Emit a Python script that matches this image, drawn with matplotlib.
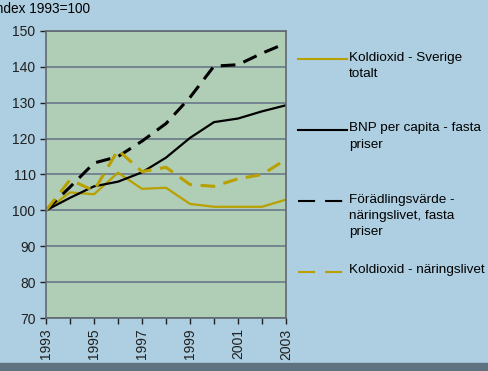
import matplotlib.pyplot as plt
from matplotlib.lines import Line2D

years = [1993, 1994, 1995, 1996, 1997, 1998, 1999, 2000, 2001, 2002, 2003]
co2_sverige = [100, 105, 104.5, 110.5, 106, 106.3, 101.8, 101, 101, 101, 103]
bnp_capita = [100, 103.5, 106.7, 108, 110.6, 114.7, 120.2, 124.6, 125.6, 127.6, 129.3]
foradling = [100, 106.5, 113.2, 115, 119.3, 124.2, 131.5, 140.2, 140.6, 143.8, 146.6]
co2_naring = [100, 108.5, 105.5, 116.8, 110.8, 112, 107.2, 106.7, 108.8, 110, 114.2]

labels = ['Koldioxid - Sverige\ntotalt', 'BNP per capita - fasta\npriser',
          'Förädlingsvärde -\nnäringslivet, fasta\npriser', 'Koldioxid - näringslivet']

gold = '#b8a000'
bg = '#aecfe1'

plt.rcParams['font.family'] = ['Liberation Sans', 'DejaVu Sans']

fig = plt.figure(figsize=(4.88, 3.71), dpi=100)
fig.patch.set_facecolor(bg)
ax = fig.add_axes([46 / 488, 53 / 371, 240 / 488, 287 / 371])
ax.set_facecolor('#b0cdb5')

dash = (0, (4.8, 2.8))
styles = [dict(color=gold, lw=1.6, ls='-'),
          dict(color='black', lw=1.6, ls='-'),
          dict(color='black', lw=2.2, ls=dash),
          dict(color=gold, lw=2.2, ls=dash)]
series = [co2_sverige, bnp_capita, foradling, co2_naring]

for vals, st in zip(series, styles):
    ax.plot(years, vals, **st)

ax.set_xlim(1993, 2003)
ax.set_ylim(70, 150)
ax.set_yticks(range(70, 151, 10))
ax.set_xticks(years)
ax.set_xticklabels([str(y) if y % 2 == 1 else '' for y in years], rotation=90)
ax.tick_params(labelsize=10, colors='#202020', length=4, width=1)
ax.grid(axis='y', color='#687888', lw=1.2)
for s in ax.spines.values():
    s.set_color('#606870')
    s.set_linewidth(1.2)

fig.text(-0.016, 0.995, 'Index 1993=100', fontsize=9.8, va='top', ha='left')

# legend drawn by hand to copy the spread-out layout
top = 1 - 59 / 371
step = 71 / 371
for i, (lab, st) in enumerate(zip(labels, styles)):
    y = top - i * step
    st = dict(st, lw=1.5)
    if st['ls'] != '-':
        st['ls'] = (0, (8.2, 4.8))
    fig.add_artist(Line2D([298 / 488, 347 / 488], [y, y], transform=fig.transFigure, **st))
    fig.text(349 / 488, y + 7.5 / 371, lab, fontsize=9.7, va='top', ha='left', linespacing=1.5)

# dark strip at the bottom
fig.add_artist(plt.Rectangle((0, 0), 1, 8 / 371, transform=fig.transFigure,
                             color='#5e7282', zorder=5))

fig.savefig('out.png', dpi=100, facecolor=bg)
